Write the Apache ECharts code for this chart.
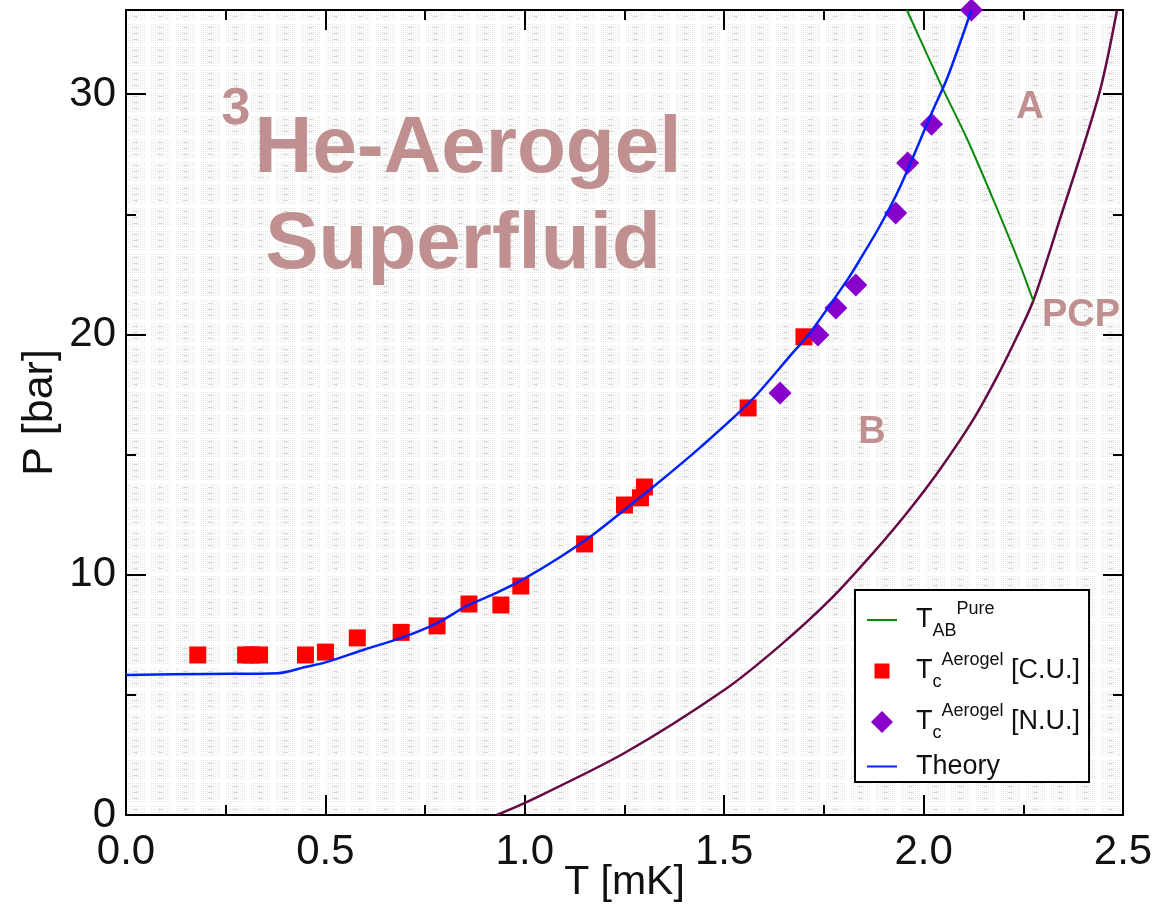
<!DOCTYPE html>
<html>
<head>
<meta charset="utf-8">
<script src="https://cdn.jsdelivr.net/npm/echarts@6/dist/echarts.min.js"></script>
<style>
html,body{margin:0;padding:0;background:#fff;}
#c{width:1158px;height:905px;}
</style>
</head>
<body>
<div id="c"></div>
<script>
// ---- data ----
const xTicks = [0.0, 0.5, 1.0, 1.5, 2.0, 2.5];
const yTicks = [0, 10, 20, 30];

// Theory (blue line)
const theoryT = [0, 0.21, 0.38, 0.45, 0.5, 0.6, 0.69, 0.78, 0.855, 0.93, 1.0, 1.09, 1.17, 1.256, 1.34, 1.44, 1.565, 1.67, 1.715, 1.81, 1.84, 1.89, 1.94, 2.02, 2.06, 2.12];
const theoryP = [5.83, 5.87, 5.9, 6.16, 6.35, 6.9, 7.37, 7.99, 8.7, 9.25, 9.85, 10.75, 11.65, 12.78, 13.9, 15.3, 17.2, 19.2, 20.06, 22.3, 23.1, 24.5, 26.1, 29.2, 30.7, 33.5];

// Tc Aerogel [C.U.] (red squares)
const cuT = [0.18, 0.30, 0.315, 0.335, 0.45, 0.50, 0.58, 0.69, 0.78, 0.86, 0.94, 0.99, 1.15, 1.25, 1.29, 1.30, 1.56, 1.70];
const cuP = [6.66, 6.66, 6.66, 6.66, 6.66, 6.78, 7.37, 7.6, 7.87, 8.78, 8.74, 9.53, 11.28, 12.9, 13.2, 13.65, 16.94, 19.9];

// Tc Aerogel [N.U.] (purple diamonds)
const nuT = [1.64, 1.735, 1.78, 1.83, 1.93, 1.96, 2.02, 2.12];
const nuP = [17.56, 19.97, 21.1, 22.06, 25.05, 27.13, 28.75, 33.5];

// T_AB pure (green line)
const abT = [1.958, 2.046, 2.11, 2.175, 2.24, 2.275];
const abP = [33.5, 30.3, 28.1, 25.6, 22.97, 21.4];

// Pure 3He Tc (maroon line)
const pureT = [0.93, 1.0, 1.25, 1.5, 1.64, 1.765, 1.873, 1.958, 2.04, 2.124, 2.184, 2.234, 2.275, 2.34, 2.44, 2.485];
const pureP = [0, 0.5, 2.58, 5.2, 7.05, 8.95, 10.9, 12.57, 14.36, 16.44, 18.23, 19.9, 21.4, 24.7, 30.0, 33.5];

function zip(a, b) { return a.map((v, i) => [v, b[i]]); }

// ---- background dotted pattern ----
const tile = document.createElement('canvas');
tile.width = 25; tile.height = 23;
(function () {
  const g = tile.getContext('2d');
  g.fillStyle = '#ffffff';
  g.fillRect(0, 0, 25, 23);
  for (let y = 1; y < 20; y += 2) {
    for (let x = 1; x < 20; x += 2) {
      g.fillStyle = ((x + y) % 4 === 0) ? '#e0e2e0' : '#ebecea';
      g.fillRect(x, y, 1, 1);
    }
  }
  g.fillStyle = '#d8dcd8';
  for (let y = 4; y < 20; y += 6) g.fillRect(8, y, 5, 1);
})();

const FONT = '"Liberation Sans", Arial, Helvetica, sans-serif';
const TXT = '#c09090';

const chart = echarts.init(document.getElementById('c'), null, {renderer: 'canvas'});

const axisCommon = {
  axisLine: {show: true, onZero: false, lineStyle: {color: '#000', width: 2}},
  axisTick: {show: true, inside: true, length: 20, lineStyle: {color: '#000', width: 2}},
  minorTick: {show: true, splitNumber: 2, length: 10, lineStyle: {color: '#000', width: 2}},
  splitLine: {show: false},
  minorSplitLine: {show: false}
};

const names = {
  ab: 'T_AB^Pure',
  cu: 'T_c^Aerogel [C.U.]',
  nu: 'T_c^Aerogel [N.U.]',
  th: 'Theory'
};

const lineIcon = 'path://M0,0M30,22M0,10L30,10L30,12L0,12Z';

const option = {
  backgroundColor: '#ffffff',
  animation: false,
  grid: {
    left: 126, right: 35, top: 10, bottom: 90,
    outerBoundsMode: 'none',
    containLabel: false,
    show: true,
    backgroundColor: {image: tile, repeat: 'repeat'},
    borderWidth: 0
  },
  xAxis: [
    Object.assign({
      type: 'value', min: 0, max: 2.5, interval: 0.5, position: 'bottom',
      name: 'T [mK]', nameLocation: 'middle', nameGap: 47, nameMoveOverlap: false,
      nameTextStyle: {fontFamily: FONT, fontSize: 41, color: '#111'},
      axisLabel: {
        fontFamily: FONT, fontSize: 42, color: '#111', margin: 16,
        formatter: v => xTicks.some(t => Math.abs(t - v) < 1e-9) ? v.toFixed(1) : ''
      }
    }, axisCommon),
    Object.assign({
      type: 'value', min: 0, max: 2.5, interval: 0.5, position: 'top',
      axisLabel: {show: false}
    }, axisCommon)
  ],
  yAxis: [
    Object.assign({
      type: 'value', min: 0, max: 33.5, interval: 10, position: 'left',
      name: 'P [bar]', nameLocation: 'middle', nameGap: 64, nameRotate: 90, nameMoveOverlap: false,
      nameTextStyle: {fontFamily: FONT, fontSize: 43, color: '#111'},
      axisLabel: {
        fontFamily: FONT, fontSize: 42, color: '#111', margin: 10,
        formatter: v => yTicks.indexOf(v) >= 0 ? String(v) : ''
      }
    }, axisCommon),
    Object.assign({
      type: 'value', min: 0, max: 33.5, interval: 10, position: 'right',
      axisLabel: {show: false}
    }, axisCommon)
  ],
  legend: {
    orient: 'vertical',
    left: 855, top: 590,
    padding: [10, 9, 2, 12],
    itemGap: 11,
    itemWidth: 30,
    itemHeight: 22,
    backgroundColor: '#ffffff',
    borderColor: '#000',
    borderWidth: 2,
    borderRadius: 0,
    data: [
      {name: names.ab, icon: lineIcon, itemStyle: {color: '#0a8a0a'}},
      {name: names.cu, icon: 'path://M0,0M22,22M3.5,3.5L18.5,3.5L18.5,18.5L3.5,18.5Z'},
      {name: names.nu, icon: 'path://M11,0L22,11L11,22L0,11Z'},
      {name: names.th, icon: lineIcon, itemStyle: {color: '#0022ff'}}
    ],
    formatter: function (n) {
      if (n === names.ab) return '{t|T}{sub|AB}{sup|Pure}';
      if (n === names.cu) return '{t|T}{sub|c}{sup|Aerogel}{t| [C.U.]}';
      if (n === names.nu) return '{t|T}{sub|c}{sup|Aerogel}{t| [N.U.]}';
      return '{t|Theory}';
    },
    textStyle: {
      padding: [0, 0, 0, 14],
      rich: {
        t: {fontFamily: FONT, fontSize: 27, color: '#111', lineHeight: 40, verticalAlign: 'middle'},
        sub: {fontFamily: FONT, fontSize: 18, color: '#111', lineHeight: 18, verticalAlign: 'bottom'},
        sup: {fontFamily: FONT, fontSize: 18, color: '#111', lineHeight: 18, verticalAlign: 'top'}
      }
    }
  },
  graphic: [
    {type: 'text', x: 236, y: 110, z: 1,
     style: {text: '3', font: 'bold 52px ' + FONT, fill: TXT, textAlign: 'center', textVerticalAlign: 'middle'}},
    {type: 'text', x: 468, y: 150, z: 1,
     style: {text: 'He-Aerogel', font: 'bold 80px ' + FONT, fill: TXT, textAlign: 'center', textVerticalAlign: 'middle'}},
    {type: 'text', x: 463, y: 246, z: 1,
     style: {text: 'Superfluid', font: 'bold 80px ' + FONT, fill: TXT, textAlign: 'center', textVerticalAlign: 'middle'}},
    {type: 'text', x: 1030, y: 108, z: 1,
     style: {text: 'A', font: 'bold 38px ' + FONT, fill: TXT, textAlign: 'center', textVerticalAlign: 'middle'}},
    {type: 'text', x: 872, y: 433, z: 1,
     style: {text: 'B', font: 'bold 38px ' + FONT, fill: TXT, textAlign: 'center', textVerticalAlign: 'middle'}},
    {type: 'text', x: 1081, y: 316, z: 1,
     style: {text: 'PCP', font: 'bold 38px ' + FONT, fill: TXT, textAlign: 'center', textVerticalAlign: 'middle'}}
  ],
  series: [
    {
      name: 'pure', type: 'line', data: zip(pureT, pureP), symbol: 'none',
      smooth: 0.3,
      lineStyle: {color: '#650a45', width: 2.5}, itemStyle: {color: '#650a45'}, z: 5, clip: true
    },
    {
      name: names.ab, type: 'line', data: zip(abT, abP), symbol: 'none',
      smooth: 0.3,
      lineStyle: {color: '#0a8a0a', width: 2}, itemStyle: {color: '#0a8a0a'}, z: 5, clip: true
    },
    {
      name: names.cu, type: 'scatter', data: zip(cuT, cuP), symbol: 'rect', symbolSize: 17,
      itemStyle: {color: '#ff0000', opacity: 1}, z: 3
    },
    {
      name: names.nu, type: 'scatter', data: zip(nuT, nuP), symbol: 'diamond', symbolSize: [23, 23],
      itemStyle: {color: '#8800cc', opacity: 1}, z: 3, clip: false
    },
    {
      name: names.th, type: 'line', data: zip(theoryT, theoryP), symbol: 'none',
      smooth: 0.3,
      lineStyle: {color: '#0022ff', width: 2.5}, itemStyle: {color: '#0022ff'}, z: 6, clip: true
    }
  ]
};
chart.setOption(option);
</script>
</body>
</html>
